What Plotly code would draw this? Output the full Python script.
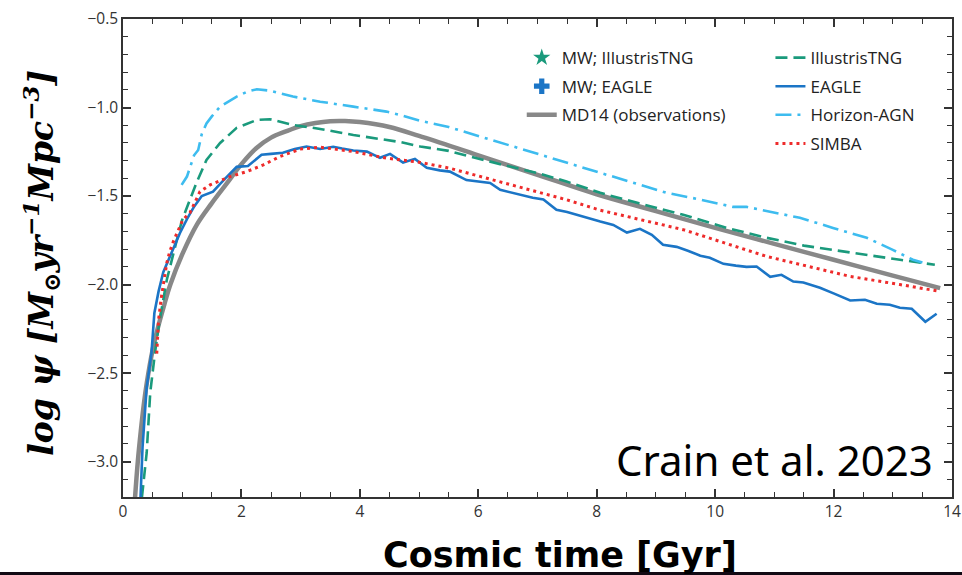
import plotly.graph_objects as go

# ---- data: cosmic star-formation rate density, log psi vs cosmic time (Gyr)
t_md14 = [0.2, 0.25, 0.3, 0.35, 0.4, 0.5, 0.6, 0.7, 0.8, 1.0, 1.25, 1.5, 1.75,
          2.0, 2.25, 2.5, 2.75, 3.0, 3.25, 3.5, 3.75, 4.0, 4.5, 5.0, 6.0, 7.0,
          8.0, 9.0, 10.0, 11.0, 12.0, 13.0, 13.8]
sfr_md14 = [-3.22, -3.0, -2.83, -2.68, -2.56, -2.37, -2.23, -2.11, -2.0, -1.83,
            -1.66, -1.54, -1.43, -1.32, -1.23, -1.17, -1.135, -1.105, -1.087,
            -1.077, -1.076, -1.082, -1.11, -1.16, -1.27, -1.38, -1.49, -1.585,
            -1.68, -1.77, -1.86, -1.95, -2.02]

t_tng = [0.32, 0.40, 0.46, 0.54, 0.62, 0.74, 0.91, 1.0, 1.24, 1.41, 1.64, 1.92,
         2.26, 2.48, 2.87, 3.33, 3.89, 4.46, 4.68, 5.02, 5.5, 6.37, 7.0, 7.49,
         8.06, 8.7, 9.46, 10.2, 10.87, 11.5, 12.28, 12.7, 13.12, 13.71]
sfr_tng = [-3.2, -2.95, -2.61, -2.385, -2.2, -1.973, -1.747, -1.634, -1.426,
           -1.296, -1.2, -1.115, -1.07, -1.066, -1.098, -1.121, -1.155, -1.183,
           -1.195, -1.22, -1.245, -1.32, -1.37, -1.418, -1.482, -1.54, -1.606,
           -1.68, -1.736, -1.78, -1.82, -1.84, -1.86, -1.888]

t_eagle = [0.29, 0.33, 0.40, 0.48, 0.53, 0.60, 0.68, 0.79, 0.96, 1.08, 1.20,
           1.33, 1.52, 1.70, 1.92, 2.11, 2.34, 2.50, 2.70, 2.90, 3.10, 3.33,
           3.55, 3.70, 3.89, 4.12, 4.34, 4.51, 4.73, 4.93, 5.13, 5.35, 5.52,
           5.80, 6.00, 6.20, 6.37, 6.65, 6.92, 7.10, 7.32, 7.50, 7.66, 7.85,
           8.06, 8.28, 8.51, 8.73, 8.93, 9.12, 9.35, 9.55, 9.75, 9.91, 10.14,
           10.35, 10.53, 10.70, 10.93, 11.12, 11.32, 11.49, 11.77, 12.00,
           12.28, 12.53, 12.73, 12.95, 13.12, 13.32, 13.55, 13.74]
sfr_eagle = [-3.25, -2.92, -2.58, -2.39, -2.16, -2.04, -1.93, -1.84, -1.71,
             -1.63, -1.56, -1.50, -1.475, -1.41, -1.335, -1.33, -1.267, -1.262,
             -1.256, -1.235, -1.22, -1.234, -1.222, -1.232, -1.243, -1.249,
             -1.284, -1.262, -1.311, -1.29, -1.34, -1.355, -1.362, -1.41,
             -1.418, -1.426, -1.465, -1.49, -1.51, -1.52, -1.578, -1.59,
             -1.606, -1.625, -1.644, -1.663, -1.706, -1.685, -1.719, -1.775,
             -1.787, -1.81, -1.837, -1.849, -1.883, -1.893, -1.9, -1.898,
             -1.956, -1.945, -1.983, -1.988, -2.018, -2.05, -2.09, -2.086,
             -2.108, -2.114, -2.131, -2.137, -2.21, -2.165]

t_hagn = [0.99, 1.08, 1.20, 1.27, 1.33, 1.41, 1.50, 1.64, 1.92, 2.10, 2.26,
          2.48, 2.87, 3.33, 3.89, 4.45, 4.68, 5.02, 5.5, 6.0, 7.0, 8.06, 9.18,
          9.75, 10.30, 10.53, 11.43, 11.99, 12.56, 13.0, 13.34, 13.5]
sfr_hagn = [-1.437, -1.39, -1.27, -1.24, -1.15, -1.09, -1.05, -0.995, -0.938,
            -0.91, -0.897, -0.905, -0.938, -0.967, -0.995, -1.023, -1.042,
            -1.075, -1.11, -1.16, -1.26, -1.369, -1.482, -1.52, -1.561, -1.561,
            -1.623, -1.68, -1.736, -1.804, -1.86, -1.875]

t_simba = [0.57, 0.60, 0.65, 0.74, 0.79, 0.85, 1.01, 1.13, 1.30, 1.47, 1.81,
           2.09, 2.37, 2.65, 2.99, 3.33, 3.89, 4.45, 5.02, 5.52, 6.37, 7.49,
           8.06, 9.46, 10.87, 12.28, 13.12, 13.8]
sfr_simba = [-2.39, -2.2, -2.067, -1.877, -1.813, -1.757, -1.634, -1.595,
             -1.475, -1.437, -1.39, -1.362, -1.324, -1.277, -1.235, -1.224,
             -1.249, -1.286, -1.31, -1.343, -1.42, -1.521, -1.58, -1.69,
             -1.841, -1.954, -2.0, -2.039]

GREEN = "#1a9a7c"
BLUE = "#1b75c6"
LIGHTBLUE = "#3dbcef"
RED = "#ee2b2b"
GRAY = "#888888"
AXIS = "#333333"

fig = go.Figure()

# legend-only entries for the Milky Way analogue markers
fig.add_trace(go.Scatter(x=[None], y=[None], mode="markers", name="MW; IllustrisTNG",
                         marker=dict(symbol="star", size=13, color=GREEN),
                         legend="legend", legendgroup="a"))
fig.add_trace(go.Scatter(x=[None], y=[None], mode="markers", name="MW; EAGLE",
                         marker=dict(symbol="cross", size=13, color=BLUE),
                         legend="legend", legendgroup="b"))
fig.add_trace(go.Scatter(x=t_md14, y=sfr_md14, mode="lines", name="MD14 (observations)",
                         line=dict(color=GRAY, width=4.5, shape="spline"),
                         legend="legend", legendgroup="c"))

fig.add_trace(go.Scatter(x=t_tng, y=sfr_tng, mode="lines", name="IllustrisTNG",
                         line=dict(color=GREEN, width=2.6, dash="12px,6px"),
                         legend="legend2", legendgroup="d"))
fig.add_trace(go.Scatter(x=t_eagle, y=sfr_eagle, mode="lines", name="EAGLE",
                         line=dict(color=BLUE, width=2.6),
                         legend="legend2", legendgroup="e"))
fig.add_trace(go.Scatter(x=t_hagn, y=sfr_hagn, mode="lines", name="Horizon-AGN",
                         line=dict(color=LIGHTBLUE, width=2.6, dash="16px,6px,3px,6px"),
                         legend="legend2", legendgroup="f"))
fig.add_trace(go.Scatter(x=t_simba, y=sfr_simba, mode="lines", name="SIMBA",
                         line=dict(color=RED, width=3, dash="3px,4px"),
                         legend="legend2", legendgroup="g"))

axis_common = dict(
    showgrid=False, zeroline=False, showline=True, linecolor=AXIS, linewidth=1.5,
    mirror="ticks", ticks="inside", ticklen=8, tickwidth=1.5, tickcolor=AXIS,
    tickfont=dict(family="Open Sans", size=15.5, color=AXIS), automargin=False,
)

fig.update_xaxes(range=[0, 14], tick0=0, dtick=2,
                 minor=dict(dtick=0.5, ticks="inside", ticklen=5, tickwidth=1.2,
                            tickcolor=AXIS),
                 **axis_common)
fig.update_yaxes(range=[-3.2, -0.5], tick0=-0.5, dtick=0.5, tickformat=".1f",
                 minor=dict(dtick=0.1, ticks="inside", ticklen=5, tickwidth=1.2,
                            tickcolor=AXIS),
                 **axis_common)

legend_common = dict(
    bgcolor="rgba(0,0,0,0)", borderwidth=0, traceorder="grouped",
    tracegroupgap=3.5, font=dict(family="Open Sans", size=17, color="#222222"),
    yanchor="top", xanchor="left",
)

fig.update_layout(
    width=962, height=575,
    margin=dict(l=123, r=10, t=19, b=78, autoexpand=False),
    plot_bgcolor="white", paper_bgcolor="white",
    showlegend=True,
    legend=dict(x=0.481, y=0.956, **legend_common),
    legend2=dict(x=0.781, y=0.956, **legend_common),
    annotations=[
        dict(text="<b>Cosmic time [Gyr]</b>", xref="paper", yref="paper",
             x=0.527, y=-0.122, xanchor="center", yanchor="middle", showarrow=False,
             font=dict(family="DejaVu Sans", size=35, color="black")),
        dict(text="log ψ [M<sub>⊙</sub>yr<sup>−1</sup>Mpc<sup>−3</sup>]",
             xref="paper", yref="paper", x=-0.099, y=0.49, xanchor="center",
             yanchor="middle", textangle=-90, showarrow=False,
             font=dict(family="DejaVu Serif", size=33, color="black",
                       style="italic", weight="bold")),
        dict(text="Crain et al. 2023", xref="paper", yref="paper",
             x=0.98, y=0.079, xanchor="right", yanchor="middle", showarrow=False,
             font=dict(family="Noto Sans", size=42, color="black")),
    ],
    shapes=[
        dict(type="rect", xref="paper", yref="paper", x0=-0.2, x1=1.02,
             y0=-0.17, y1=-0.1569, fillcolor="#120a14", line=dict(width=0),
             layer="above"),
    ],
)

fig.write_html("out.html")
